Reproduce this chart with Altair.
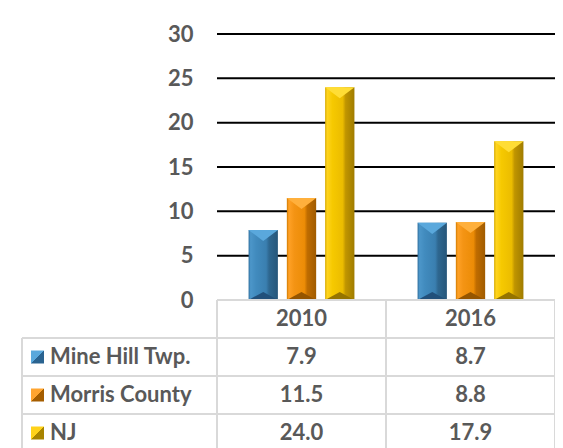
import altair as alt
import pandas as pd

# ---------------- data ----------------
years = ["2010", "2016"]
series = ["Mine Hill Twp.", "Morris County", "NJ"]
mine_hill = [7.9, 8.7]
morris_county = [11.5, 8.8]
nj = [24.0, 17.9]
row_labels = ["Mine Hill Twp.", "Morris County", "\u00a0NJ"]
y_ticks = [0, 5, 10, 15, 20, 25, 30]

values_by_series = [mine_hill, morris_county, nj]

bar_df = pd.DataFrame(
    [
        {"year": y, "series": s, "value": v}
        for s, vals in zip(series, values_by_series)
        for y, v in zip(years, vals)
    ]
)

# ---------------- styles ----------------
FONT = "Lato"
FS = 22
TXT = "#595959"
W, H = 338, 266
ROW_PX = 38.0
COL_PX = W / len(years)

def grad_h(stops):
    return alt.Gradient(
        gradient="linear", x1=0, y1=0, x2=1, y2=0,
        stops=[alt.GradientStop(offset=o, color=c) for o, c in stops],
    )

def grad_diag(light, dark):
    return alt.Gradient(
        gradient="linear", x1=0, y1=0, x2=1, y2=1,
        stops=[alt.GradientStop(offset=0, color=light),
               alt.GradientStop(offset=0.5, color=light),
               alt.GradientStop(offset=0.5, color=dark),
               alt.GradientStop(offset=1, color=dark)],
    )

styles = {
    "Mine Hill Twp.": dict(
        stops=[(0, "#2f6f9e"), (0.07, "#4c96c9"), (0.25, "#418bbe"), (0.6, "#3a7fb0"),
               (0.7, "#2e6790"), (1, "#26567a")],
        top="#5aa8dc", bottom="#22507a", light="#5aa8dc", dark="#2a6390"),
    "Morris County": dict(
        stops=[(0, "#d07a00"), (0.07, "#ffa126"), (0.25, "#f49414"), (0.6, "#ec8c06"),
               (0.7, "#bf6c00"), (1, "#a05b00")],
        top="#ffb03c", bottom="#955500", light="#ffa530", dark="#a45d00"),
    "NJ": dict(
        stops=[(0, "#d4a800"), (0.07, "#ffd41f"), (0.25, "#f6c900"), (0.6, "#ebbc00"),
               (0.7, "#c09500"), (1, "#a07c00")],
        top="#ffdd35", bottom="#957400", light="#ffd21a", dark="#a88400"),
}

# ---------------- bars group ----------------
yscale = alt.Scale(domain=[0, 30], nice=False, zero=True)
yaxis = alt.Axis(values=y_ticks, grid=False, ticks=False, domain=False,
                 labelFont=FONT, labelFontSize=FS, labelFontWeight="bold",
                 labelColor=TXT, labelPadding=24, title=None)
xscale = alt.Scale(domain=years, paddingInner=0, paddingOuter=0)
xoscale = alt.Scale(domain=series, paddingInner=0.234, paddingOuter=0.825)

grid = alt.Chart(pd.DataFrame({"v": y_ticks[1:]})).mark_rule(
    color="black", strokeWidth=2
).encode(y=alt.Y("v:Q", scale=yscale, axis=yaxis, title=None))

bar_layers = [grid]
for s in series:
    st = styles[s]
    base = alt.Chart(bar_df[bar_df["series"] == s]).encode(
        x=alt.X("year:N", scale=xscale, axis=None),
        xOffset=alt.XOffset("series:N", scale=xoscale),
        y=alt.Y("value:Q", scale=yscale, axis=yaxis, title=None),
    )
    bar_layers.append(base.mark_bar(color=grad_h(st["stops"])))
    bar_layers.append(
        base.mark_point(shape="M-1,0L1,0L0,0.75Z", size=870, filled=True,
                        color=st["top"], opacity=1, strokeWidth=0)
    )
    bar_layers.append(
        base.transform_calculate(zero="0").mark_point(
            shape="M-1,0L1,0L0,-0.55Z", size=870, filled=True,
            color=st["bottom"], opacity=1, strokeWidth=0
        ).encode(y=alt.Y("zero:Q", scale=yscale, axis=yaxis, title=None))
    )

bars_group = alt.layer(*bar_layers)

# ---------------- data table group ----------------
ncols = len(years)
nrows = len(series)
label_left = -195.0 / COL_PX
tx = alt.Scale(domain=[0, ncols], nice=False, zero=False)
ty = alt.Scale(domain=[0, H / ROW_PX], nice=False, zero=False)

hl = [{"y": 0, "x": 0, "x2": ncols}] + [
    {"y": -(k + 1), "x": label_left, "x2": ncols} for k in range(nrows + 1)
]
vl = [{"x": label_left, "y": -1, "y2": -(nrows + 1)}] + [
    {"x": c, "y": 0, "y2": -(nrows + 1)} for c in range(ncols + 1)
]
BORDER = "#d9d9d9"
hlines = alt.Chart(pd.DataFrame(hl)).mark_rule(color=BORDER, strokeWidth=2).encode(
    x=alt.X("x:Q", scale=tx, axis=None), x2="x2:Q",
    y=alt.Y("y:Q", scale=ty, axis=None),
)
vlines = alt.Chart(pd.DataFrame(vl)).mark_rule(color=BORDER, strokeWidth=2).encode(
    x=alt.X("x:Q", scale=tx, axis=None),
    y=alt.Y("y:Q", scale=ty, axis=None), y2="y2:Q",
)

header_df = pd.DataFrame({"x": [i + 0.5 for i in range(ncols)], "y": -0.5, "t": years})
cells = []
for k, vals in enumerate(values_by_series):
    for j, v in enumerate(vals):
        cells.append({"x": j + 0.5, "y": -(k + 1.5), "t": f"{v:.1f}"})
cells_df = pd.DataFrame(cells)
labels_df = pd.DataFrame({"x": label_left, "y": [-(k + 1.5) for k in range(nrows)], "t": row_labels})

text_kw = dict(font=FONT, fontSize=FS, fontWeight="bold", color=TXT, baseline="middle")
header = alt.Chart(header_df).mark_text(align="center", **text_kw).encode(
    x=alt.X("x:Q", scale=tx, axis=None), y=alt.Y("y:Q", scale=ty, axis=None), text="t:N")
cells_t = alt.Chart(cells_df).mark_text(align="center", **text_kw).encode(
    x=alt.X("x:Q", scale=tx, axis=None), y=alt.Y("y:Q", scale=ty, axis=None), text="t:N")
labels_t = alt.Chart(labels_df).mark_text(align="left", dx=28, **text_kw).encode(
    x=alt.X("x:Q", scale=tx, axis=None), y=alt.Y("y:Q", scale=ty, axis=None), text="t:N")

table_layers = [hlines, vlines, header, cells_t, labels_t]
key_x = label_left + 15.5 / COL_PX
for k, s in enumerate(series):
    st = styles[s]
    kd = pd.DataFrame({"x": [key_x], "y": [-(k + 1.5)], "series": [s]})
    table_layers.append(
        alt.Chart(kd).mark_square(size=169, filled=True, opacity=1, strokeWidth=0,
                                  color=grad_diag(st["light"], st["dark"])).encode(
            x=alt.X("x:Q", scale=tx, axis=None), y=alt.Y("y:Q", scale=ty, axis=None))
    )

table_group = alt.layer(*table_layers)

chart = (
    alt.layer(bars_group, table_group)
    .resolve_scale(x="independent", y="independent")
    .properties(
        width=W, height=H,
        autosize=alt.AutoSizeParams(type="none"),
        padding={"left": 209, "top": 26, "right": 0, "bottom": 160},
    )
    .configure_view(stroke=None)
)

chart.save("out.html", embed_options={"renderer": "svg", "actions": False})
